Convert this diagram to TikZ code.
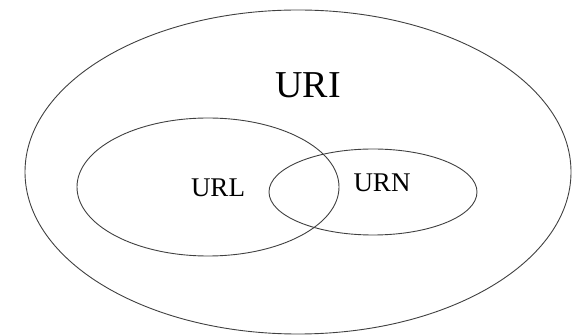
\documentclass[tikz,border=0pt]{standalone}
\usepackage{fontspec}
\setmainfont{Liberation Serif}
\usetikzlibrary{shapes.geometric,positioning}

\begin{document}
\begin{tikzpicture}[x=1pt, y=-1pt,
    set/.style={ellipse, draw=black!75, line width=0.9pt, inner sep=0pt},
    biglabel/.style={font=\fontsize{38}{44}\selectfont},
    smalllabel/.style={font=\fontsize{27}{32}\selectfont}]
        \useasboundingbox (0,0) rectangle (572,336);

        % Sets
        \node[set, minimum width=546pt, minimum height=324pt] (URI) at (298, 172) {};
        \node[set, minimum width=262pt, minimum height=138pt] (URL) at (208, 187) {};
        \node[set, minimum width=208pt, minimum height=86pt] (URN) at (373, 192) {};

        % Labels
        \node[biglabel] (URItext) at (308, 85) {URI};
        \node[smalllabel] (URLtext) at (218, 188) {URL};
        \node[smalllabel] (URNtext) at (382, 183) {URN};
      \end{tikzpicture}
\end{document}
